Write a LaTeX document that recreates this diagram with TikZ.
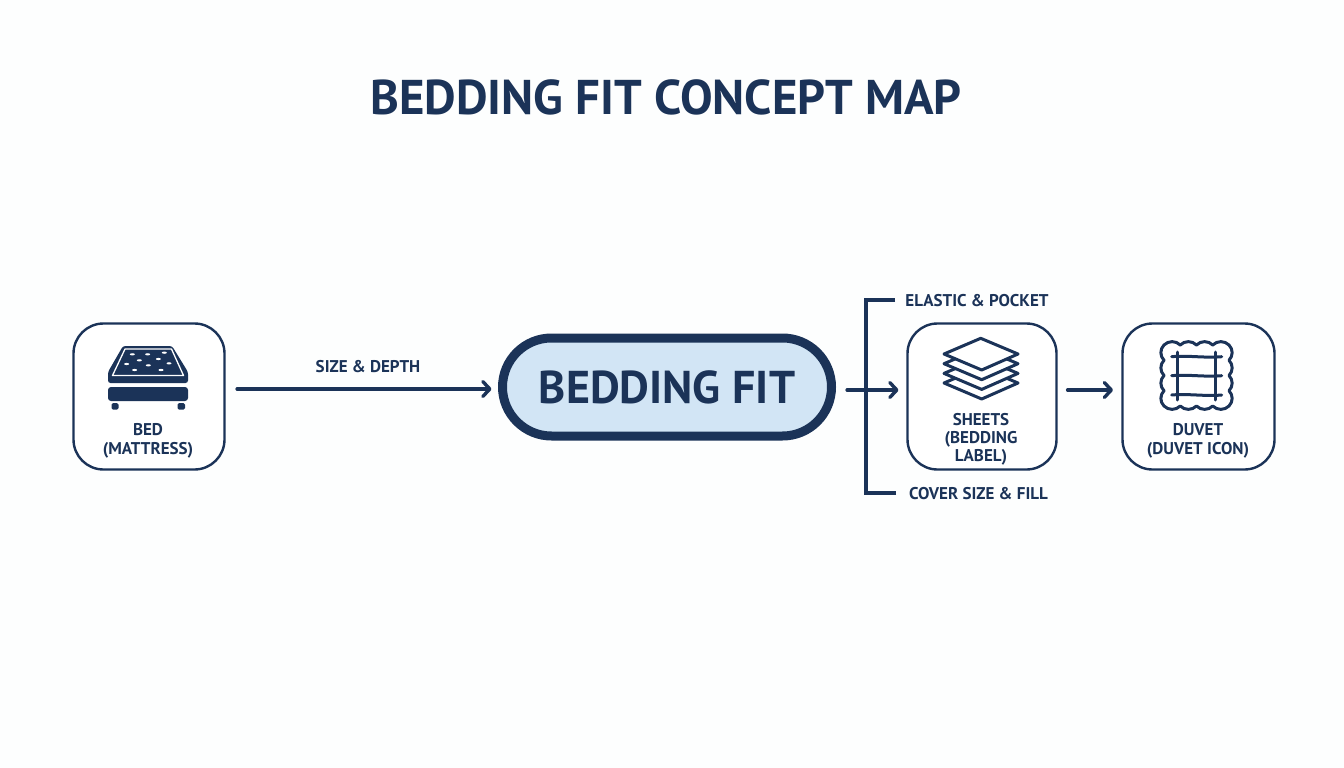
\documentclass[tikz,border=0pt]{standalone}
\usepackage{fontspec}
\setmainfont{PT Sans}
\usetikzlibrary{arrows.meta,calc}
\definecolor{navy}{HTML}{1B3358}
\definecolor{hubfill}{HTML}{D2E5F5}
\definecolor{bgc}{HTML}{FDFEFE}
\tikzset{
  x=1pt,y=-1pt,
  boxnode/.style={draw=navy,line width=2.4pt,rounded corners=30pt,fill=white,minimum height=146pt,outer sep=0pt,inner sep=0pt},
  hubnode/.style={draw=navy,line width=9pt,rounded corners=49pt,fill=hubfill,minimum width=329pt,minimum height=98pt,outer sep=0pt,inner sep=0pt,text=navy,font=\bfseries\fontsize{46}{46}\selectfont},
  lbl/.style={text=navy,font=\bfseries\fontsize{17}{18}\selectfont,inner sep=0pt,align=center},
  conn/.style={draw=navy,line width=3.2pt,line cap=round,-{Straight Barb[length=7pt,width=15pt,line width=3.4pt,round]}},
  brk/.style={draw=navy,line width=3.2pt,line cap=butt,line join=miter},
  icon/.style={draw=navy,line width=3pt,line join=round,line cap=round},
}
\begin{document}
\begin{tikzpicture}
\useasboundingbox[fill=bgc] (0,0) rectangle (1344,768);
\node[text=navy,font=\bfseries\fontsize{48.8}{49}\selectfont,inner sep=0pt] (title) at (666,97) {BEDDING FIT CONCEPT MAP};

\node[boxnode,minimum width=151pt] (bed) at (149,396.5) {};
\node[hubnode] (hub) at (667,387) {BEDDING FIT};
\node[boxnode,minimum width=149pt] (sheets) at (982,396.5) {};
\node[boxnode,minimum width=152pt] (duvet) at (1198.5,396.5) {};

\node[lbl] (bedlabel) at (148,441) {BED\\[1pt](MATTRESS)};
\node[lbl] (sheetslabel) at (981,439.5) {SHEETS\\[0pt](BEDDING\\[0pt]LABEL)};
\node[lbl] (duvetlabel) at (1198,441) {DUVET\\[1pt](DUVET ICON)};
\node[lbl] (sizelabel) at (368,367) {SIZE \& DEPTH};
\node[lbl] (elasticlabel) at (977,300.5) {ELASTIC \& POCKET};
\node[lbl] (coverlabel) at (978.5,494) {COVER SIZE \& FILL};

% connectors
\draw[conn,shorten <=12.5pt,shorten >=11pt] ([yshift=7.5pt]bed.east) -- ([yshift=-2pt]hub.west);
\draw[brk] (866,300) -- (866,493);
\coordinate (brtop) at (895,300);
\coordinate (brbot) at (896,493);
\draw[brk] (brtop) -- (864.4,300);
\draw[brk] (brbot) -- (864.4,493);
\draw[conn,shorten <=15.5pt,shorten >=9pt] ([yshift=-3pt]hub.east) -- ([yshift=6.5pt]sheets.west);
\draw[conn,shorten <=11pt,shorten >=9.5pt] ([yshift=6.5pt]sheets.east) -- ([yshift=6.5pt]duvet.west);

% bed icon
\fill[navy,rounded corners=2.5pt] (123,346) -- (172,346) -- (188,372) -- (188,383) -- (108,383) -- (108,372) -- cycle;
\draw[white,line width=1.3pt,line join=round] (112.5,375.5) -- (125,349) -- (171.5,349) -- (183.5,375.5) -- cycle;
\foreach \zx/\zy in {217/133,263/133,313/128,238/151,295/147,200/162,265/166,327/160,224/180,303/180}
  \fill[white] ({\zx/3+60},{\zy/3+310}) ellipse [x radius=2.5pt,y radius=1.1pt];
\fill[navy,rounded corners=3pt] (108,387) -- (188,387) -- (188,401) -- (108,401) -- cycle;
\fill[navy,rounded corners=1.5pt] (111.5,403) rectangle (118.5,409.5);
\fill[navy,rounded corners=1.5pt] (177.5,403) rectangle (185,409.5);

% sheets icon
\foreach \d in {29,19.4,9.7,0}
  \draw[icon,fill=white] (980.7,338.3+\d) -- (1018,354+\d) -- (981.7,370+\d) -- (944,354+\d) -- cycle;

% duvet icon
\draw[icon] (1164,345)
  foreach \i in {1,2,3,4} {to[bend left=45] ++(16.25,0)}
  foreach \i in {1,2,3,4} {to[bend left=45] ++(0,15.25)}
  foreach \i in {1,2,3,4} {to[bend left=45] ++(-16.25,0)}
  foreach \i in {1,2,3,4} {to[bend left=45] ++(0,-15.25)} -- cycle;
\draw[icon] (1177.3,352) -- (1177.3,400);
\draw[icon] (1215,352) -- (1215,400);
\foreach \yy in {356.7,375.7,395}
  \draw[icon] (1171.7,\yy) .. controls (1188,\yy-1.5) and (1205,\yy+1.5) .. (1221.7,\yy);
\end{tikzpicture}
\end{document}
